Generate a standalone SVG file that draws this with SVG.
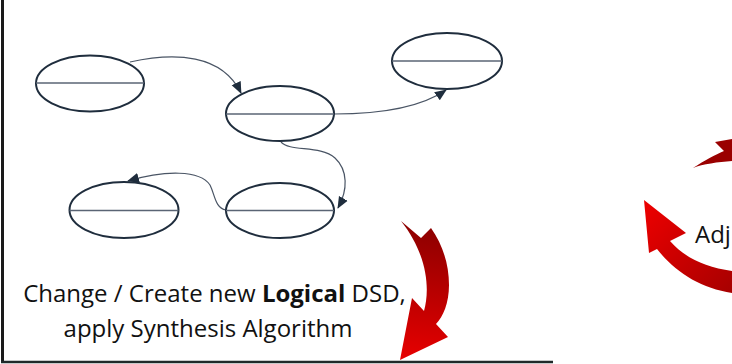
<svg xmlns="http://www.w3.org/2000/svg" width="732" height="364" viewBox="0 0 732 364">
  <style>
    .node { fill: #ffffff; stroke: #1f2d3d; stroke-width: 2; }
    .div { stroke: #5a6474; stroke-width: 1.5; }
    .conn { fill: none; stroke: #4a5565; stroke-width: 1.2; }
    .lbl { font-family: "Open Sans", "Liberation Sans", sans-serif; font-size: 24px; fill: #111111; }
  </style>
  <defs>
    <marker id="ah" markerUnits="userSpaceOnUse" markerWidth="12" markerHeight="12" viewBox="0 0 12 12" refX="11" refY="6" orient="auto">
      <path d="M0,1 L12,6 L0,11 Z" fill="#1f2d3d"/>
    </marker>
    <linearGradient id="gA" gradientUnits="userSpaceOnUse" x1="420" y1="221" x2="400" y2="360">
      <stop offset="0" stop-color="#8a0000"/>
      <stop offset="1" stop-color="#e80000"/>
    </linearGradient>
    <linearGradient id="gC" gradientUnits="userSpaceOnUse" x1="645" y1="210" x2="732" y2="290">
      <stop offset="0" stop-color="#ea0000"/>
      <stop offset="1" stop-color="#a80000"/>
    </linearGradient>
  </defs>
  <rect width="732" height="364" fill="#ffffff"/>
  <!-- frame -->
  <line x1="2.5" y1="0" x2="2.5" y2="363" stroke="#1a1a1a" stroke-width="3"/>
  <line x1="1" y1="362" x2="553" y2="362" stroke="#1f2a2a" stroke-width="2.5"/>

  <g id="connectors">
    <path class="conn" d="M130,62 C175,52 222,54 241,93" marker-end="url(#ah)"/>
    <path class="conn" d="M334,114 C380,114 420,108 446,90" marker-end="url(#ah)"/>
    <path class="conn" d="M281,142 C290,152 320,145 335,158 C348,170 348,190 338,208" marker-end="url(#ah)"/>
    <path class="conn" d="M226,210 C215,208 215,195 210,185 C200,170 165,170 128,181" marker-end="url(#ah)"/>
  </g>

  <g id="n1">
    <ellipse class="node" cx="90" cy="83.5" rx="54" ry="28"/>
    <line class="div" x1="36" y1="83" x2="144" y2="83"/>
  </g>
  <g id="n2">
    <ellipse class="node" cx="280" cy="113.5" rx="54" ry="27.5"/>
    <line class="div" x1="226" y1="114" x2="334" y2="114"/>
  </g>
  <g id="n3">
    <ellipse class="node" cx="447" cy="61" rx="55" ry="28"/>
    <line class="div" x1="392" y1="61" x2="502" y2="61" stroke="#8a90a0"/>
  </g>
  <g id="n4">
    <ellipse class="node" cx="124" cy="210" rx="54.5" ry="28"/>
    <line class="div" x1="69.5" y1="210.5" x2="178.5" y2="210.5"/>
  </g>
  <g id="n5">
    <ellipse class="node" cx="280" cy="210.5" rx="54" ry="27.5"/>
    <line class="div" x1="226" y1="210.5" x2="334" y2="210.5"/>
  </g>

  <g id="label-main">
    <text class="lbl" x="214.5" y="302" text-anchor="middle">Change / Create new <tspan font-weight="bold">Logical</tspan> DSD,</text>
    <text class="lbl" x="208" y="337" text-anchor="middle">apply Synthesis Algorithm</text>
  </g>

  <g id="red-arrows">
    <path fill="url(#gA)" d="M401,221 L421,238 L431,228 C443,245 449,265 449,285 C449,303 443,317 436,324 L448,337 L400,360 L412,298 L424,311 C430,290 428,255 401,221 Z"/>
    <path fill="#9a0000" d="M693,168 C705,160 715,155 724,151 L715,142 L732,139 L732,161 C718,162 703,164 693,168 Z"/>
    <path fill="url(#gC)" d="M644,200 L686,233 L670,241 C685,258 705,267 732,271 L732,293 C700,288 675,272 657,249 L649,253 Z"/>
  </g>

  <g id="label-adj">
    <text class="lbl" x="695" y="243">Adj</text>
  </g>
</svg>
